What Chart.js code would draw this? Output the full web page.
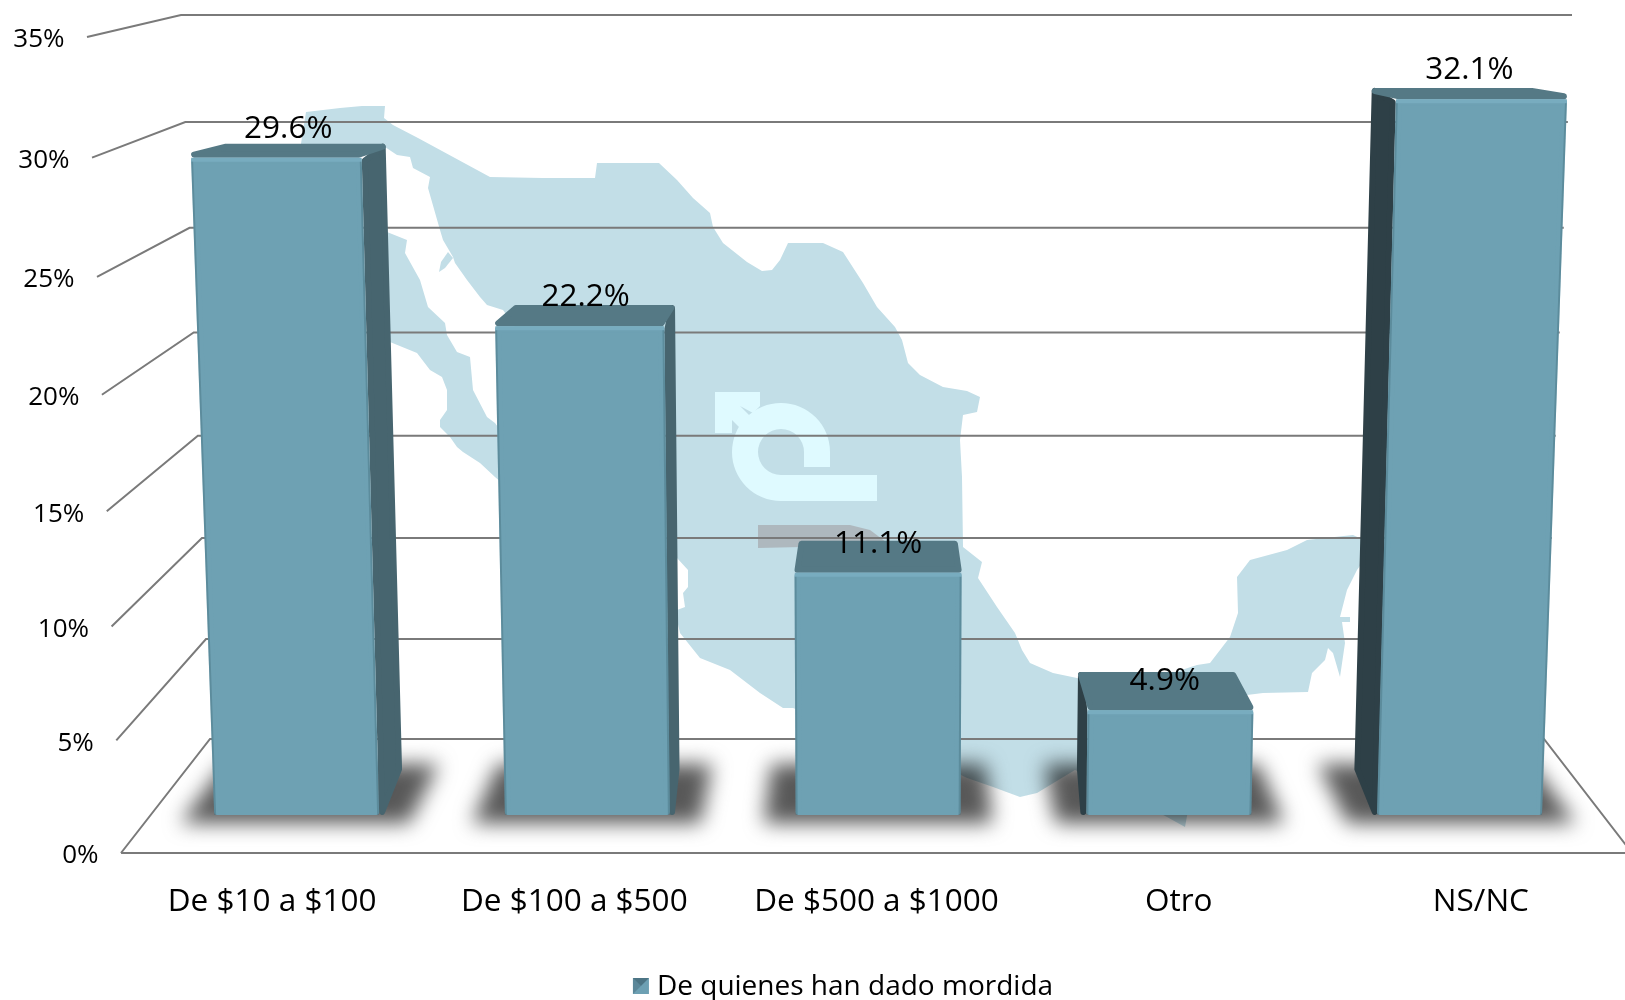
<!DOCTYPE html>
<html><head><meta charset="utf-8">
<style>html,body{margin:0;padding:0;background:#fff;overflow:hidden}#w{width:1625px;height:1000px;position:relative;overflow:hidden}canvas{display:block}</style>
<script src="https://cdn.jsdelivr.net/npm/chart.js@4"></script>
</head><body><div id="w"><canvas id="c" width="1640" height="1000"></canvas></div>
<script>
const categories = ['De $10 a $100','De $100 a $500','De $500 a $1000','Otro','NS/NC'];
const seriesName = 'De quienes han dado mordida';
const values = [29.6,22.2,11.1,4.9,32.1];
const valueLabels = ['29.6%','22.2%','11.1%','4.9%','32.1%'];
const axisMax = 35, axisStep = 5;

const FONT = '"Open Sans"';
const lerp=(a,b,t)=>a+(b-a)*t;
// perspective box of the 3D chart: the chart area is the front plane, these give the back wall
const BOX={fl1:87,fr1:1666,bl0:210,bl1:181,br0:1544,br1:1572,by0:739,by1:15};
const T_FRONT=.29,T_BACK=.667,BASE_F=.0063,BAR_LEAN=.93,BAR_SPREAD=.9956,BAR_SHIFT=.001;
const warpGrid=f=>f-.04*f*(1-f);
const warpBar=f=>f-.06*f*f*(1-f);
function project(area,u,f,t,fx){
  fx=fx===undefined?f:fx;
  const xl=lerp(lerp(area.left,BOX.fl1,fx),lerp(BOX.bl0,BOX.bl1,fx),t);
  const xr=lerp(lerp(area.right,BOX.fr1,fx),lerp(BOX.br0,BOX.br1,fx),t);
  const yf=lerp(area.bottom,area.top,f), yb=lerp(BOX.by0,BOX.by1,f);
  return {x:lerp(xl,xr,u),y:lerp(yf,yb,t)};
}
function poly(ctx,pts){ctx.beginPath();pts.forEach((p,i)=>{const x=p.x??p[0],y=p.y??p[1];i?ctx.lineTo(x,y):ctx.moveTo(x,y)});ctx.closePath();}

// decorative watermark behind the chart (not data)
const mapMain=[[306,112],[340,108],[362,106],[385,106],[384,118],[393,125],[418,138],[490,177],[543,178],[595,178],[597,163],[659,163],[677,180],[693,198],[710,213],[713,227],[723,243],[747,262],[762,271],[772,270],[780,260],[788,243],[823,243],[843,252],[863,283],[877,307],[895,327],[902,340],[908,363],[920,375],[943,387],[967,391],[980,397],[977,412],[963,415],[960,440],[962,477],[963,547],[982,562],[978,578],[997,607],[1015,633],[1022,650],[1030,663],[1053,673],[1077,678],[1120,690],[1197,665],[1210,663],[1230,637],[1238,613],[1237,577],[1250,560],[1287,550],[1307,540],[1353,535],[1375,545],[1357,570],[1347,590],[1340,617],[1350,617],[1350,622],[1342,622],[1345,643],[1340,677],[1333,653],[1328,648],[1325,660],[1312,673],[1308,692],[1263,693],[1247,695],[1252,755],[1190,800],[1185,827],[1167,817],[1075,770],[1037,793],[1020,797],[993,787],[967,778],[940,765],[793,708],[783,708],[760,693],[730,670],[700,658],[680,633],[677,620],[677,610],[685,607],[683,593],[688,587],[688,570],[677,558],[503,310],[487,305],[480,297],[467,280],[455,263],[453,257],[443,240],[440,230],[428,188],[430,177],[413,168],[410,157],[397,155],[385,147],[300,150]];
const mapBaja=[[387,232],[407,240],[405,253],[420,280],[428,307],[445,323],[447,335],[457,352],[470,357],[473,390],[487,417],[495,423],[530,470],[510,490],[495,477],[480,463],[463,452],[457,447],[450,437],[440,427],[440,420],[447,410],[447,390],[442,377],[430,370],[417,353],[390,342],[370,335],[370,232]];
const mapIsland=[[448,252],[453,258],[445,268],[439,272],[441,262]];
const greyBlock=[[758,525],[850,525],[870,530],[890,545],[758,548]];
const logoHead=[[715,392],[760,392],[760,406],[753,413],[740,406],[757,423],[740,428],[732,420],[732,433],[715,433]];

const chart3d={id:'chart3d',
  afterLayout(chart){const l=chart.legend;if(l){l.left-=33;l.right-=33;l.top+=11;l.bottom+=11;}},
  beforeDatasetsDraw(chart){
    const ctx=chart.ctx,a=chart.chartArea,ys=chart.scales.y,meta=chart.getDatasetMeta(0),W=a.right-a.left,H=a.bottom-a.top;
    const bars=meta.data.map((el,i)=>({i,u:.5+((el.x-a.left)/W-.5)*BAR_SPREAD+BAR_SHIFT,h:(el.width/2)/W,f:(a.bottom-el.y)/H}));
    ctx.save();
    // floor shadows
    ctx.filter='blur(10px)';ctx.fillStyle='#585858';
    bars.forEach(b=>{const s=b.h*1.38;poly(ctx,[project(a,b.u-s,0,.26),project(a,b.u+s,0,.26),project(a,b.u+s,0,.78),project(a,b.u-s,0,.78)]);ctx.fill();});
    ctx.filter='none';
    // map watermark
    ctx.globalCompositeOperation='multiply';ctx.fillStyle='#C2DEE7';
    poly(ctx,mapMain);ctx.fill();poly(ctx,mapBaja);ctx.fill();poly(ctx,mapIsland);ctx.fill();
    ctx.globalCompositeOperation='source-over';
    ctx.fillStyle='#AEB8BE';poly(ctx,greyBlock);ctx.fill();
    ctx.fillStyle='#DFFAFF';poly(ctx,logoHead);ctx.fill();
    ctx.beginPath();ctx.moveTo(830,467);ctx.lineTo(830,452);ctx.arc(781,452,49,0,Math.PI/2,true);ctx.lineTo(877,501);ctx.lineTo(877,475);ctx.lineTo(781,475);ctx.arc(781,452,23,Math.PI/2,0,false);ctx.lineTo(804,467);ctx.closePath();ctx.fill();
    // walls and gridlines from the y scale's ticks
    ctx.strokeStyle='#7a7a7a';ctx.lineWidth=2;ctx.lineJoin='miter';
    const tickF=tk=>warpGrid((a.bottom-ys.getPixelForValue(tk.value))/H);
    ys.ticks.forEach(tk=>{
      const f=tickF(tk);
      const p0=project(a,0,f,0),p1=project(a,0,f,1),p2=project(a,1,f,1);
      ctx.beginPath();ctx.moveTo(p0.x,p0.y);ctx.lineTo(p1.x,p1.y);ctx.lineTo(p2.x,p2.y);
      if(tk.value===0){const p3=project(a,1,0,0);ctx.lineTo(p3.x,p3.y);ctx.lineTo(p0.x,p0.y);}
      ctx.stroke();
    });
    // y tick labels
    ctx.fillStyle='#000';ctx.font='26px '+FONT;ctx.textAlign='right';ctx.textBaseline='middle';
    ys.ticks.forEach(tk=>{const p=project(a,0,tickF(tk),0);ctx.fillText(tk.label,p.x-22.5,p.y+3);});
    // bars
    bars.forEach(b=>{
      const topF=warpBar(b.f),lean=b.f*BAR_LEAN;
      const P=(du,f,t,fx)=>project(a,b.u+du*b.h,f,t,fx);
      const fl=P(-1,BASE_F,T_FRONT),fr=P(1,BASE_F,T_FRONT),tl=P(-1,topF,T_FRONT,lean),tr=P(1,topF,T_FRONT,lean);
      const bbl=P(-1,BASE_F,T_BACK),bbr=P(1,BASE_F,T_BACK),btl=P(-1,topF,T_BACK,lean),btr=P(1,topF,T_BACK,lean);
      ctx.lineJoin='round';
      const R=3;
      const face=(pts,c)=>{
        const cx=pts.reduce((s,p)=>s+p.x,0)/pts.length,cy=pts.reduce((s,p)=>s+p.y,0)/pts.length;
        const ins=pts.map(p=>({x:p.x+Math.sign(cx-p.x)*Math.min(R,Math.abs(cx-p.x)),y:p.y+Math.sign(cy-p.y)*Math.min(R,Math.abs(cy-p.y))}));
        poly(ctx,ins);ctx.fillStyle=c;ctx.strokeStyle=c;ctx.lineWidth=R*2;ctx.fill();ctx.stroke();
      };
      if(btl.x<tl.x-1) face([tl,btl,bbl,fl],'#2E4047');
      if(btr.x>tr.x+1) face([tr,btr,bbr,fr],'#47656F');
      face([tl,tr,btr,btl],'#557985');
      face([tl,tr,fr,fl],'#6EA1B3');
      ctx.save();poly(ctx,[tl,tr,fr,fl]);ctx.clip();
      ctx.lineWidth=8;ctx.strokeStyle='#78ACBF';ctx.beginPath();ctx.moveTo(tl.x,tl.y);ctx.lineTo(tr.x,tr.y);ctx.stroke();
      ctx.lineWidth=4;ctx.strokeStyle='rgba(60,100,115,.35)';
      ctx.beginPath();ctx.moveTo(tl.x,tl.y+4);ctx.lineTo(fl.x,fl.y);ctx.moveTo(tr.x,tr.y+4);ctx.lineTo(fr.x,fr.y);ctx.stroke();
      ctx.restore();
    });
    // value labels
    ctx.fillStyle='#000';ctx.font='31.5px '+FONT;ctx.textAlign='center';ctx.textBaseline='middle';
    bars.forEach(b=>{
      const tf=warpBar(b.f),px=project(a,b.u,tf,.45,b.f*BAR_LEAN).x,py=project(a,b.u,tf,T_FRONT).y-29;
      ctx.fillText(valueLabels[b.i],px,py);
    });
    ctx.restore();
    return false;
  },
  afterDraw(chart){
    const hb=chart.legend&&chart.legend.legendHitBoxes&&chart.legend.legendHitBoxes[0];
    if(!hb)return;
    const s=16,ctx=chart.ctx,x=hb.left-1,y=hb.top+(hb.height-s)/2-1;
    ctx.save();
    ctx.fillStyle='#fff';ctx.fillRect(hb.left-2,hb.top,12,hb.height+4);
    ctx.fillStyle='#6DA0B3';ctx.fillRect(x,y,s,s);
    ctx.fillStyle='rgba(50,80,92,.55)';
    ctx.beginPath();ctx.moveTo(x,y);ctx.lineTo(x+s,y);ctx.lineTo(x+s/2,y+s/2);ctx.closePath();ctx.fill();
    ctx.fillStyle='rgba(50,80,92,.3)';
    ctx.beginPath();ctx.moveTo(x,y);ctx.lineTo(x,y+s);ctx.lineTo(x+s/2,y+s/2);ctx.closePath();ctx.fill();
    ctx.restore();
  }
};

new Chart(document.getElementById('c'),{
  type:'bar',
  data:{labels:categories,datasets:[{label:seriesName,data:values,backgroundColor:'#6DA0B3',barPercentage:.565,categoryPercentage:1}]},
  options:{
    responsive:false,animation:false,
    layout:{padding:{left:121,top:37,right:8,bottom:0}},
    plugins:{
      tooltip:{enabled:false},
      legend:{position:'bottom',labels:{boxWidth:9,boxHeight:16,padding:4,color:'#000',font:{family:FONT,size:28}}}
    },
    scales:{
      x:{grid:{display:false},border:{display:false},
         ticks:{autoSkip:false,maxRotation:0,color:'#000',padding:22,font:{family:FONT,size:31.5}},
         afterFit(s){s.height=147-(s.chart.legend?s.chart.legend.height:0);}},
      y:{min:0,max:axisMax,grid:{display:false},border:{display:false},
         ticks:{stepSize:axisStep,display:false,callback:v=>v+'%'},
         afterFit(s){s.width=0;}}
    }
  },
  plugins:[chart3d]
});
</script></body></html>
